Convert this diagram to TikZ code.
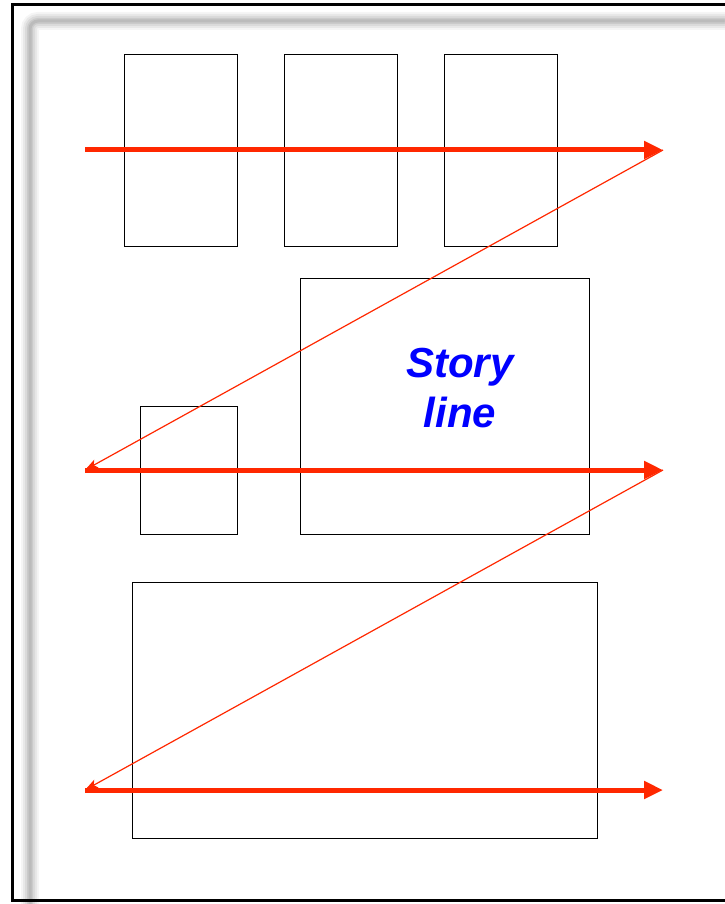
\documentclass[tikz,border=0pt]{standalone}
\usepackage{fontspec}
\setsansfont{Liberation Sans}
\usetikzlibrary{arrows.meta}
\definecolor{arrred}{RGB}{255,40,0}
\definecolor{storyblue}{RGB}{0,0,255}
\tikzset{
  panel/.style={draw=black, line width=1.1pt},
  mainarrow/.style={draw=arrred, line width=5pt, -{Triangle[length=19pt,width=17pt]}},
  backarrow/.style={draw=arrred, line width=1.2pt, -{Stealth[length=13pt,width=9pt,inset=3pt]}},
  shadow/.style={draw=black, rounded corners=8pt}
}
\begin{document}
\begin{tikzpicture}[x=1pt,y=-1pt]
\useasboundingbox (0,0) rectangle (724,904);
\fill[white] (0,0) rectangle (724,904);
% shadow band
\foreach \w/\o in {18/0.04,14/0.05,10/0.06,6/0.07,3/0.07}{
  \draw[shadow, line width=\w pt, draw opacity=\o] (30,910) -- (30,21) -- (740,21);
}
% outer frame
\draw[line width=3pt] (12,5) rectangle (740,900);
% panels
\node[panel, minimum width=113pt, minimum height=192pt, anchor=north west, inner sep=0pt] (p1) at (124,54) {};
\node[panel, minimum width=113pt, minimum height=192pt, anchor=north west, inner sep=0pt] (p2) at (284,54) {};
\node[panel, minimum width=113pt, minimum height=192pt, anchor=north west, inner sep=0pt] (p3) at (444,54) {};
\node[panel, minimum width=289pt, minimum height=256pt, anchor=north west, inner sep=0pt] (story) at (300,278) {};
\node[panel, minimum width=97pt, minimum height=128pt, anchor=north west, inner sep=0pt] (small) at (140,406) {};
\node[panel, minimum width=465pt, minimum height=256pt, anchor=north west, inner sep=0pt] (bottom) at (132,582) {};
\node[text=storyblue, font=\sffamily\bfseries\itshape\fontsize{42}{50}\selectfont, align=center] (label) at (460,388) {Story\\line};
% arrow coordinates
\coordinate (a1s) at (85,150);
\coordinate (a1e) at (663,150);
\coordinate (a2s) at (85,470);
\coordinate (a2e) at (663,470);
\coordinate (a3s) at (85,790);
\coordinate (a3e) at (663,790);
\draw[mainarrow] (a1s) -- (a1e);
\draw[mainarrow] (a2s) -- (a2e);
\draw[mainarrow] (a3s) -- (a3e);
\draw[backarrow] (a1e) -- (a2s);
\draw[backarrow] (a2e) -- (a3s);
\end{tikzpicture}
\end{document}
